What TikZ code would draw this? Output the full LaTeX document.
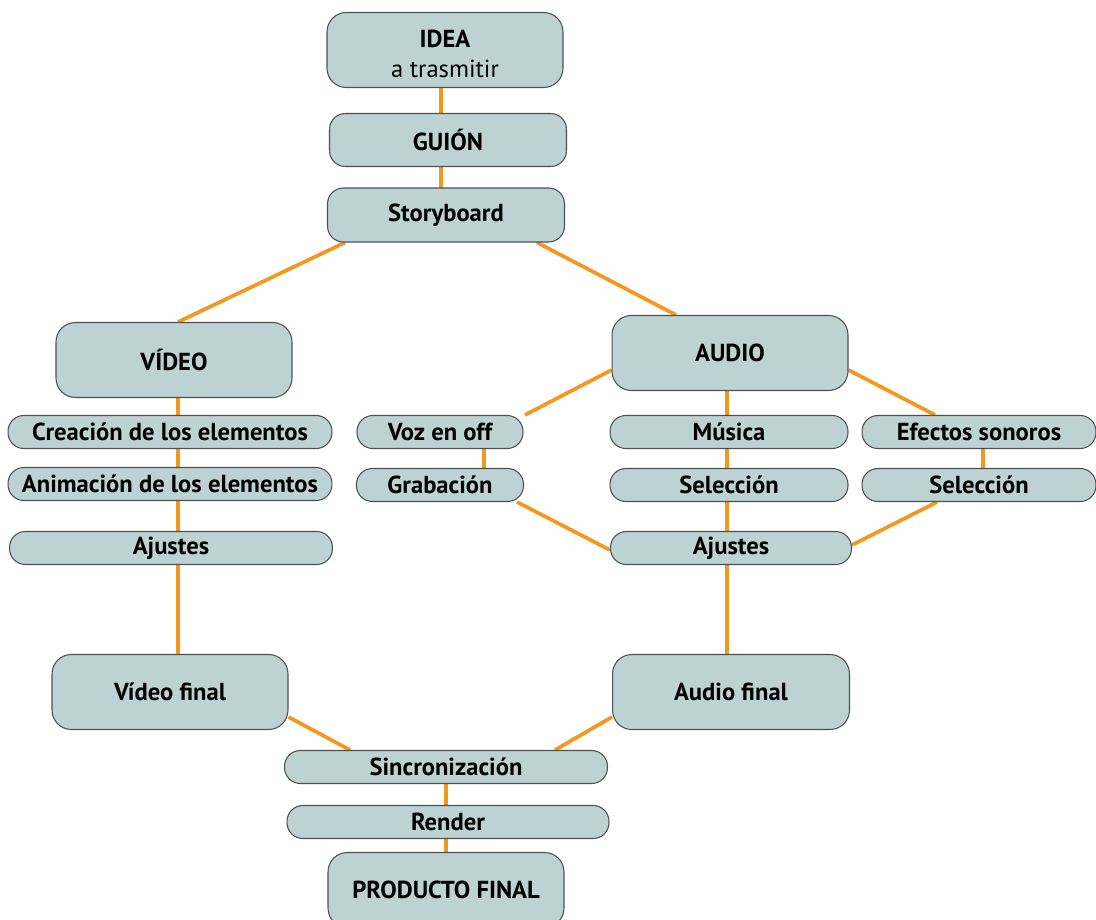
\documentclass[tikz,border=0pt]{standalone}
\usepackage{fontspec}
\setmainfont{PT Sans}
\usetikzlibrary{calc}
\definecolor{boxfill}{HTML}{BDD3D3}
\definecolor{boxline}{HTML}{4F4F4F}
\definecolor{linkorange}{HTML}{F5971D}
\pgfdeclarelayer{background}
\pgfsetlayers{background,main}
\tikzset{
  box/.style={draw=boxline,line width=0.6pt,fill=boxfill,align=center,inner sep=0pt,
    font=\bfseries\fontsize{14}{17}\selectfont},
  bigbox/.style={box,rounded corners=11pt,minimum width=4.72cm,minimum height=1.5cm},
  bar/.style={box,rounded corners=9pt,minimum height=0.66cm},
  link/.style={draw=linkorange,line width=2.1pt}
}
\begin{document}
\begin{tikzpicture}[x=0.02cm,y=-0.02cm]
\useasboundingbox (0,0) rectangle (1096,920);
\node[bigbox] (idea) at (445,50) {\rule{0pt}{14pt}IDEA\\{\mdseries a trasmitir}};
\node[bar,minimum width=4.74cm,minimum height=1.06cm] (guion) at (448,140) {GUIÓN};
\node[bar,minimum width=4.74cm,minimum height=1.08cm] (story) at (446,215) {Storyboard};
\node[bigbox] (video) at (174,360) {VÍDEO};
\node[bigbox] (audio) at (730,353) {AUDIO};
\node[bar,minimum width=6.48cm] (crea) at (170,432) {Creación de los elementos};
\node[bar,minimum width=6.48cm] (anim) at (170,484) {Animación de los elementos};
\node[bar,minimum width=6.46cm] (ajustesV) at (171,548) {Ajustes};
\node[bar,minimum width=3.32cm] (voz) at (440,432) {Voz en off};
\node[bar,minimum width=3.34cm] (grab) at (440,485) {Grabación};
\node[bar,minimum width=4.76cm] (musica) at (729,432) {Música};
\node[bar,minimum width=4.76cm] (selM) at (729,485) {Selección};
\node[bar,minimum width=4.68cm] (efectos) at (979,432) {Efectos sonoros};
\node[bar,minimum width=4.68cm] (selR) at (979,485) {Selección};
\node[bar,minimum width=4.82cm] (ajustesA) at (731,548) {Ajustes};
\node[bigbox] (vfinal) at (170,692) {Vídeo final};
\node[bigbox,minimum width=4.74cm] (afinal) at (731,692) {Audio final};
\node[bar,minimum width=6.46cm] (sinc) at (446,767) {Sincronización};
\node[bar,minimum width=6.44cm] (render) at (448,822) {Render};
\node[bigbox] (prod) at (446,890) {PRODUCTO FINAL};
\begin{pgfonlayer}{background}
\draw[link] ($(idea)+(-4,0)$) -- ($(story)+(-5,0)$);
\draw[link] ($(story.south)+(-101,0)$) -- ($(video.north)+(4,0)$);
\draw[link] ($(story.south)+(91,0)$) -- ($(audio.north)+(-54,0)$);
\draw[link] ($(video)+(4,0)$) -- ($(vfinal)+(8,0)$);
\draw[link] ($(audio.west)+(0,17)$) -- ($(voz.north)+(85,0)$);
\draw[link] ($(audio.east)+(0,17)$) -- ($(efectos.north)+(-44,0)$);
\draw[link] ($(audio)+(-3,0)$) -- ($(afinal)+(-4,0)$);
\draw[link] ($(voz)+(44,0)$) -- ($(grab)+(44,0)$);
\draw[link] ($(efectos)+(4,0)$) -- ($(selR)+(4,0)$);
\draw[link] ($(grab.south)+(77,0)$) -- ($(ajustesA.west)+(0,2)$);
\draw[link] ($(selR.south)+(-42,0)$) -- ($(ajustesA.east)+(0,-3)$);
\draw[link] ($(vfinal.east)+(0,25)$) -- ($(sinc.north)+(-96,0)$);
\draw[link] ($(afinal.west)+(0,25)$) -- ($(sinc.north)+(109,0)$);
\draw[link] (sinc) -- (prod);
\end{pgfonlayer}
\end{tikzpicture}
\end{document}
